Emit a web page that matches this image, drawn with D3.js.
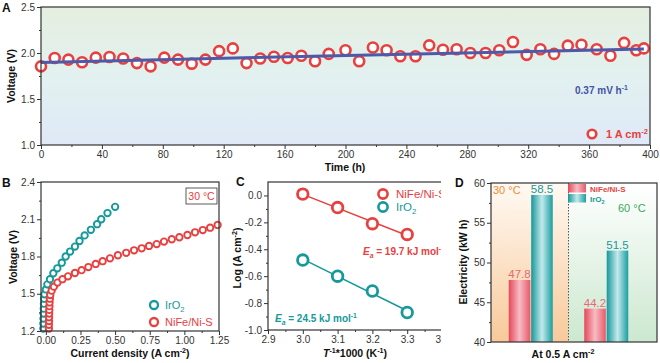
<!DOCTYPE html>
<html>
<head>
<meta charset="utf-8">
<script src="https://cdn.jsdelivr.net/npm/d3@7"></script>
<style>
body { margin: 0; background: #fff; }
svg { font-family: "Liberation Sans", Arial, sans-serif; }
</style>
</head>
<body>
<svg id="fig" width="660" height="363"></svg>
<script>
// ---- panel A: stability at 1 A cm-2
const stabTime = [0, 9, 18, 27, 36, 45, 54, 63, 72, 81, 90, 99, 108, 117, 126, 135, 144, 153, 162, 171, 180, 189,
    200, 209, 218, 227, 236, 246, 255, 264, 273, 282, 292, 301, 310, 319, 328, 337, 346, 355, 365, 374, 383, 391, 396];
const stabVolt = [1.855, 1.946, 1.928, 1.90, 1.95, 1.957, 1.94, 1.89, 1.855, 1.95, 1.928, 1.884, 1.928, 2.02, 2.05,
    1.89, 1.94, 1.96, 1.946, 1.97, 1.91, 1.99,
    2.03, 1.91, 2.06, 2.03, 1.964, 1.964, 2.083, 2.036, 2.04, 2.0, 2.0, 2.03, 2.12, 1.98, 2.04, 1.99, 2.08, 2.09,
    2.04, 1.97, 2.11, 2.03, 2.05];
const fitStartV = 1.898;
const fitSlope = 0.00037;   // 0.37 mV/h
const fitRange = [0, 396];

// ---- panel B: polarization curves at 30 C
const nifeJ = [0.022, 0.022, 0.023, 0.023, 0.024, 0.025, 0.026, 0.027, 0.029, 0.032, 0.042, 0.058, 0.084, 0.12,
    0.16, 0.21, 0.258, 0.307, 0.36, 0.41, 0.463, 0.52, 0.58, 0.637, 0.692, 0.745, 0.80, 0.853, 0.909, 0.964,
    1.022, 1.077, 1.133, 1.186, 1.24];
const nifeV = [1.22, 1.25, 1.28, 1.31, 1.34, 1.37, 1.40, 1.43, 1.46, 1.49, 1.525, 1.557, 1.59, 1.617,
    1.64, 1.667, 1.69, 1.715, 1.74, 1.762, 1.785, 1.81, 1.83, 1.85, 1.866, 1.885, 1.90, 1.92, 1.939, 1.955,
    1.973, 1.995, 2.013, 2.032, 2.054];
const iroJ = [-0.018, -0.018, -0.017, -0.016, -0.015, -0.014, -0.013, -0.01, 0.0, 0.011, 0.03, 0.054, 0.083,
    0.115, 0.143, 0.175, 0.21, 0.243, 0.28, 0.325, 0.37, 0.40, 0.445, 0.50];
const iroV = [1.22, 1.26, 1.30, 1.34, 1.38, 1.42, 1.46, 1.495, 1.535, 1.576, 1.617, 1.665, 1.705,
    1.75, 1.80, 1.84, 1.88, 1.925, 1.97, 2.015, 2.06, 2.10, 2.15, 2.20];

// ---- panel C: Arrhenius
const invT = [3.0, 3.1, 3.2, 3.3];
const nifeLog = [0.01, -0.09, -0.21, -0.29];
const iroLog = [-0.48, -0.60, -0.71, -0.87];

// ---- panel D: electricity consumption at 0.5 A cm-2
const temps = ["30", "60"];
const catalysts = ["NiFe/Ni-S", "IrO2"];
const nifeKwh = [47.8, 44.2];
const iroKwh = [58.5, 51.5];

const RED = "#e8403f";
const TEAL = "#15999a";
const AXC = "#333";

const svg = d3.select("#fig");
const defs = svg.append("defs");

// text with super/subscripts: parts = [[text, kind, italic]]
function rich(sel, parts, fs) {
    let shift = 0;
    parts.forEach(([t, kind, it]) => {
        const target = kind === "sup" ? -fs * 0.4 : kind === "sub" ? fs * 0.25 : 0;
        const ts = sel.append("tspan")
            .attr("dy", target - shift)
            .attr("font-size", kind ? fs * 0.68 : fs)
            .text(t);
        if (it) ts.attr("font-style", "italic");
        shift = target;
    });
    return sel;
}

function styleAxis(g) {
    g.select(".domain").remove();
    g.selectAll("line").attr("stroke", AXC).attr("stroke-width", 1);
    g.selectAll("text").attr("fill", AXC).attr("font-size", 10).attr("font-family", null);
}

function drawAxes(g, x, y, o) {
    const [x0, x1] = x.range();
    const [y0, y1] = y.range();
    if (o.xMajor) {
        g.append("g").attr("transform", `translate(0,${y0})`)
            .call(d3.axisBottom(x).tickValues(o.xMajor).tickSize(4).tickPadding(2).tickFormat(o.xFmt))
            .call(styleAxis);
        g.append("g").attr("transform", `translate(0,${y0})`)
            .call(d3.axisBottom(x).tickValues(o.xMinor).tickSize(2).tickFormat(""))
            .call(styleAxis);
    }
    g.append("g").attr("transform", `translate(${x0},0)`)
        .call(d3.axisLeft(y).tickValues(o.yMajor).tickSize(4).tickPadding(2).tickFormat(o.yFmt))
        .call(styleAxis);
    g.append("g").attr("transform", `translate(${x0},0)`)
        .call(d3.axisLeft(y).tickValues(o.yMinor).tickSize(2).tickFormat(""))
        .call(styleAxis);
    g.append("rect")
        .attr("x", x0).attr("y", y1)
        .attr("width", x1 - x0).attr("height", y0 - y1)
        .attr("fill", "none").attr("stroke", AXC).attr("stroke-width", 1.2);
}

function letter(x, y, t) {
    svg.append("text").attr("x", x).attr("y", y)
        .attr("font-size", 12).attr("font-weight", "bold").attr("fill", "#111").text(t);
}

function yTitle(x, y, parts) {
    const t = svg.append("text")
        .attr("transform", `translate(${x},${y}) rotate(-90)`)
        .attr("text-anchor", "middle")
        .attr("font-size", 10.5).attr("font-weight", "bold").attr("fill", "#111");
    rich(t, parts, 10.5);
}

function xTitle(x, y, parts) {
    const t = svg.append("text")
        .attr("x", x).attr("y", y)
        .attr("text-anchor", "middle")
        .attr("font-size", 10.5).attr("font-weight", "bold").attr("fill", "#111");
    rich(t, parts, 10.5);
}

// ================= Panel A =================
{
    const x = d3.scaleLinear().domain([0, 400]).range([41, 650]);
    const y = d3.scaleLinear().domain([1.0, 2.5]).range([145, 7]);
    const gA = svg.append("g");

    const bg = defs.append("linearGradient").attr("id", "bgA")
        .attr("x1", 0).attr("y1", 0).attr("x2", 0).attr("y2", 1);
    bg.append("stop").attr("offset", "0%").attr("stop-color", "#e5efe0");
    bg.append("stop").attr("offset", "50%").attr("stop-color", "#e2f1f0");
    bg.append("stop").attr("offset", "100%").attr("stop-color", "#dfe9f7");
    gA.append("rect").attr("x", 41).attr("y", 7).attr("width", 609).attr("height", 138)
        .attr("fill", "url(#bgA)");

    const pts = stabTime.map((t, i) => ({ t, v: stabVolt[i] }));
    gA.selectAll("circle.pt")
        .data(pts)
        .join("circle")
        .attr("class", "pt")
        .attr("cx", d => x(d.t))
        .attr("cy", d => y(d.v))
        .attr("r", 5)
        .attr("fill", "#fff")
        .attr("stroke", RED)
        .attr("stroke-width", 2.6);

    gA.append("line")
        .attr("x1", x(fitRange[0])).attr("y1", y(fitStartV))
        .attr("x2", x(fitRange[1])).attr("y2", y(fitStartV + fitSlope * (fitRange[1] - fitRange[0])))
        .attr("stroke", "#4c5aa9").attr("stroke-width", 3);

    drawAxes(gA, x, y, {
        xMajor: d3.range(0, 401, 40), xMinor: d3.range(20, 400, 40), xFmt: d3.format("d"),
        yMajor: [1.0, 1.5, 2.0, 2.5], yMinor: [1.25, 1.75, 2.25], yFmt: d3.format(".1f")
    });

    const slopeTxt = gA.append("text").attr("x", 575).attr("y", 94)
        .attr("font-size", 10).attr("font-weight", "bold").attr("fill", "#4452a8");
    rich(slopeTxt, [["0.37 mV h"], ["-1", "sup"]], 10);

    gA.append("circle").attr("cx", 592).attr("cy", 134).attr("r", 4.3)
        .attr("fill", "#fff").attr("stroke", RED).attr("stroke-width", 2.6);
    const lg = gA.append("text").attr("x", 606).attr("y", 138)
        .attr("font-size", 11).attr("font-weight", "bold").attr("fill", RED);
    rich(lg, [["1 A cm"], ["-2", "sup"]], 11);

    letter(2, 12, "A");
    yTitle(15, 76, [["Voltage (V)"]]);
    xTitle(345, 171, [["Time (h)"]]);
}

// ================= Panel B =================
{
    const x = d3.scaleLinear().domain([-0.035, 1.25]).range([41, 219]);
    const y = d3.scaleLinear().domain([1.2, 2.4]).range([331, 182]);
    const gB = svg.append("g");

    const iro = iroJ.map((j, i) => ({ j, v: iroV[i] }));
    const nife = nifeJ.map((j, i) => ({ j, v: nifeV[i] }));

    gB.selectAll("circle.iro")
        .data(iro)
        .join("circle")
        .attr("class", "iro")
        .attr("cx", d => x(d.j)).attr("cy", d => y(d.v))
        .attr("r", 3.2).attr("fill", "#fff").attr("stroke", TEAL).attr("stroke-width", 1.9);

    gB.selectAll("circle.nife")
        .data(nife)
        .join("circle")
        .attr("class", "nife")
        .attr("cx", d => x(d.j)).attr("cy", d => y(d.v))
        .attr("r", 3.2).attr("fill", "#fff").attr("stroke", RED).attr("stroke-width", 1.9);

    drawAxes(gB, x, y, {
        xMajor: d3.range(0, 1.26, 0.25), xMinor: d3.range(0.125, 1.25, 0.25), xFmt: d3.format(".2f"),
        yMajor: [1.2, 1.5, 1.8, 2.1, 2.4], yMinor: [1.35, 1.65, 1.95, 2.25], yFmt: d3.format(".1f")
    });

    gB.append("rect").attr("x", 186).attr("y", 188).attr("width", 31).attr("height", 16)
        .attr("fill", "#fff").attr("stroke", AXC).attr("stroke-width", 0.8);
    gB.append("text").attr("x", 201.5).attr("y", 200).attr("text-anchor", "middle")
        .attr("font-size", 10.5).attr("fill", RED).text("30 °C");

    gB.append("circle").attr("cx", 154).attr("cy", 305).attr("r", 4)
        .attr("fill", "#fff").attr("stroke", TEAL).attr("stroke-width", 2.3);
    const t1 = gB.append("text").attr("x", 165).attr("y", 309)
        .attr("font-size", 11).attr("fill", TEAL);
    rich(t1, [["IrO"], ["2", "sub"]], 11);
    gB.append("circle").attr("cx", 154).attr("cy", 322).attr("r", 4)
        .attr("fill", "#fff").attr("stroke", RED).attr("stroke-width", 2.3);
    gB.append("text").attr("x", 165).attr("y", 326)
        .attr("font-size", 11).attr("fill", RED).text("NiFe/Ni-S");

    letter(2, 187, "B");
    yTitle(17, 257, [["Voltage (V)"]]);
    xTitle(130, 357, [["Current density (A cm"], ["-2", "sup"], [")"]]);
}

// ================= Panel C =================
{
    const x = d3.scaleLinear().domain([2.9, 3.4]).range([268, 442]);
    const y = d3.scaleLinear().domain([-1.0, 0.1]).range([330, 182]);
    const gC = svg.append("g");

    function fit(xs, ys) {
        const mx = d3.mean(xs), my = d3.mean(ys);
        const b = d3.sum(xs, (v, i) => (v - mx) * (ys[i] - my)) / d3.sum(xs, v => (v - mx) ** 2);
        return v => my + b * (v - mx);
    }
    const series = [
        { vals: nifeLog, color: RED },
        { vals: iroLog, color: TEAL }
    ];
    series.forEach(s => {
        const f = fit(invT, s.vals);
        const ext = d3.extent(invT);
        gC.append("line")
            .attr("x1", x(ext[0])).attr("y1", y(f(ext[0])))
            .attr("x2", x(ext[1])).attr("y2", y(f(ext[1])))
            .attr("stroke", s.color).attr("stroke-width", 1.5);
        gC.selectAll(null)
            .data(invT.map((t, i) => ({ t, v: s.vals[i] })))
            .join("circle")
            .attr("cx", d => x(d.t)).attr("cy", d => y(d.v))
            .attr("r", 5.3).attr("fill", "#fff").attr("stroke", s.color).attr("stroke-width", 2.8);
    });

    drawAxes(gC, x, y, {
        xMajor: [2.9, 3.0, 3.1, 3.2, 3.3, 3.4], xMinor: [2.95, 3.05, 3.15, 3.25, 3.35], xFmt: v => v.toFixed(1),
        yMajor: [-1.0, -0.8, -0.6, -0.4, -0.2, 0.0], yMinor: [-0.9, -0.7, -0.5, -0.3, -0.1],
        yFmt: v => v.toFixed(1)
    });

    gC.append("circle").attr("cx", 383).attr("cy", 194).attr("r", 4.6)
        .attr("fill", "#fff").attr("stroke", RED).attr("stroke-width", 2.6);
    gC.append("text").attr("x", 396).attr("y", 198)
        .attr("font-size", 11.5).attr("fill", RED).text("NiFe/Ni-S");
    gC.append("circle").attr("cx", 383).attr("cy", 207).attr("r", 4.6)
        .attr("fill", "#fff").attr("stroke", TEAL).attr("stroke-width", 2.6);
    const lt = gC.append("text").attr("x", 396).attr("y", 211)
        .attr("font-size", 11.5).attr("fill", TEAL);
    rich(lt, [["IrO"], ["2", "sub"]], 11.5);

    const e1 = gC.append("text").attr("x", 363).attr("y", 255)
        .attr("font-size", 10).attr("font-weight", "bold").attr("fill", RED);
    rich(e1, [["E", null, true], ["a", "sub", true], [" = 19.7 kJ mol"], ["-1", "sup"]], 10);
    const e2 = gC.append("text").attr("x", 275).attr("y", 322)
        .attr("font-size", 10).attr("font-weight", "bold").attr("fill", TEAL);
    rich(e2, [["E", null, true], ["a", "sub", true], [" = 24.5 kJ mol"], ["-1", "sup"]], 10);

    letter(236, 186, "C");
    yTitle(241, 258, [["Log (A cm"], ["-2", "sup"], [")"]]);
    xTitle(355, 357, [["T", null, true], ["-1", "sup"], ["*1000 (K"], ["-1", "sup"], [")"]]);
}

// ================= Panel D =================
{
    // white backing so panel C text is cut at the panel edge
    svg.append("rect").attr("x", 441).attr("y", 172).attr("width", 219).attr("height", 191).attr("fill", "#fff");

    const left = 491, right = 657;
    const y = d3.scaleLinear().domain([40, 60]).range([342, 183]);
    const x0 = d3.scaleBand().domain(temps).range([493, 644]);
    const x1 = d3.scaleBand().domain(catalysts).range([0, 44]).paddingInner(0.04);
    const gD = svg.append("g");
    const mid = (x0("30") + x0.bandwidth() / 2 + x0("60") + x0.bandwidth() / 2) / 2;

    const bgO = defs.append("linearGradient").attr("id", "bgO")
        .attr("x1", 0).attr("y1", 0).attr("x2", 0).attr("y2", 1);
    bgO.append("stop").attr("offset", "0%").attr("stop-color", "#fffaf4");
    bgO.append("stop").attr("offset", "100%").attr("stop-color", "#f8c99a");
    const bgG = defs.append("linearGradient").attr("id", "bgG")
        .attr("x1", 0).attr("y1", 0).attr("x2", 0).attr("y2", 1);
    bgG.append("stop").attr("offset", "0%").attr("stop-color", "#ffffff");
    bgG.append("stop").attr("offset", "100%").attr("stop-color", "#cce8cf");

    gD.append("rect").attr("x", left).attr("y", y(60)).attr("width", mid - left).attr("height", y(40) - y(60))
        .attr("fill", "url(#bgO)");
    gD.append("rect").attr("x", mid).attr("y", y(60)).attr("width", right - mid).attr("height", y(40) - y(60))
        .attr("fill", "url(#bgG)");

    const barRed = defs.append("linearGradient").attr("id", "barRed");
    barRed.append("stop").attr("offset", "0%").attr("stop-color", "#e6475a");
    barRed.append("stop").attr("offset", "50%").attr("stop-color", "#f7bcc3");
    barRed.append("stop").attr("offset", "100%").attr("stop-color", "#e85a6b");
    const barTeal = defs.append("linearGradient").attr("id", "barTeal");
    barTeal.append("stop").attr("offset", "0%").attr("stop-color", "#16979a");
    barTeal.append("stop").attr("offset", "50%").attr("stop-color", "#c3eaec");
    barTeal.append("stop").attr("offset", "100%").attr("stop-color", "#1a9ea1");

    const fills = { "NiFe/Ni-S": "url(#barRed)", "IrO2": "url(#barTeal)" };
    const labelCol = { "NiFe/Ni-S": "#ea6676", "IrO2": "#17999b" };
    const bars = [];
    temps.forEach((t, i) => {
        bars.push({ t, c: "NiFe/Ni-S", v: nifeKwh[i] });
        bars.push({ t, c: "IrO2", v: iroKwh[i] });
    });
    const bx = d => x0(d.t) + x0.bandwidth() / 2 - 22 + x1(d.c);

    gD.selectAll("rect.bar")
        .data(bars)
        .join("rect")
        .attr("class", "bar")
        .attr("x", bx)
        .attr("y", d => y(d.v))
        .attr("width", x1.bandwidth())
        .attr("height", d => y(40) - y(d.v))
        .attr("fill", d => fills[d.c]);

    gD.selectAll("text.val")
        .data(bars)
        .join("text")
        .attr("class", "val")
        .attr("x", d => bx(d) + x1.bandwidth() / 2)
        .attr("y", d => y(d.v) - 1.5)
        .attr("text-anchor", "middle")
        .attr("font-size", 11.5)
        .attr("fill", d => labelCol[d.c])
        .text(d => d.v.toFixed(1));

    gD.append("line").attr("x1", mid).attr("x2", mid).attr("y1", y(60)).attr("y2", y(40))
        .attr("stroke", "#555").attr("stroke-width", 1).attr("stroke-dasharray", "1.5,1.5");

    const xD = d3.scaleLinear().domain([0, 1]).range([left, right]);
    drawAxes(gD, xD, y, {
        yMajor: [40, 45, 50, 55, 60], yMinor: [42.5, 47.5, 52.5, 57.5], yFmt: d3.format("d")
    });

    gD.append("text").attr("x", 493).attr("y", 194)
        .attr("font-size", 11).attr("fill", "#f08a32").text("30 °C");
    gD.append("text").attr("x", 618).attr("y", 212)
        .attr("font-size", 11).attr("fill", "#3aa858").text("60 °C");

    gD.append("rect").attr("x", 568).attr("y", 184).attr("width", 18).attr("height", 8.5).attr("fill", "url(#barRed)");
    gD.append("text").attr("x", 590).attr("y", 191.5)
        .attr("font-size", 8).attr("font-weight", "bold").attr("fill", RED).text("NiFe/Ni-S");
    gD.append("rect").attr("x", 568).attr("y", 194).attr("width", 18).attr("height", 8.5).attr("fill", "url(#barTeal)");
    const lt = gD.append("text").attr("x", 590).attr("y", 201.5)
        .attr("font-size", 8).attr("font-weight", "bold").attr("fill", TEAL);
    rich(lt, [["IrO"], ["2", "sub"]], 8);

    letter(455, 187, "D");
    yTitle(467, 262, [["Electricity (kW h)"]]);
    xTitle(563, 358, [["At 0.5 A cm"], ["-2", "sup"]]);
}
</script>
</body>
</html>
